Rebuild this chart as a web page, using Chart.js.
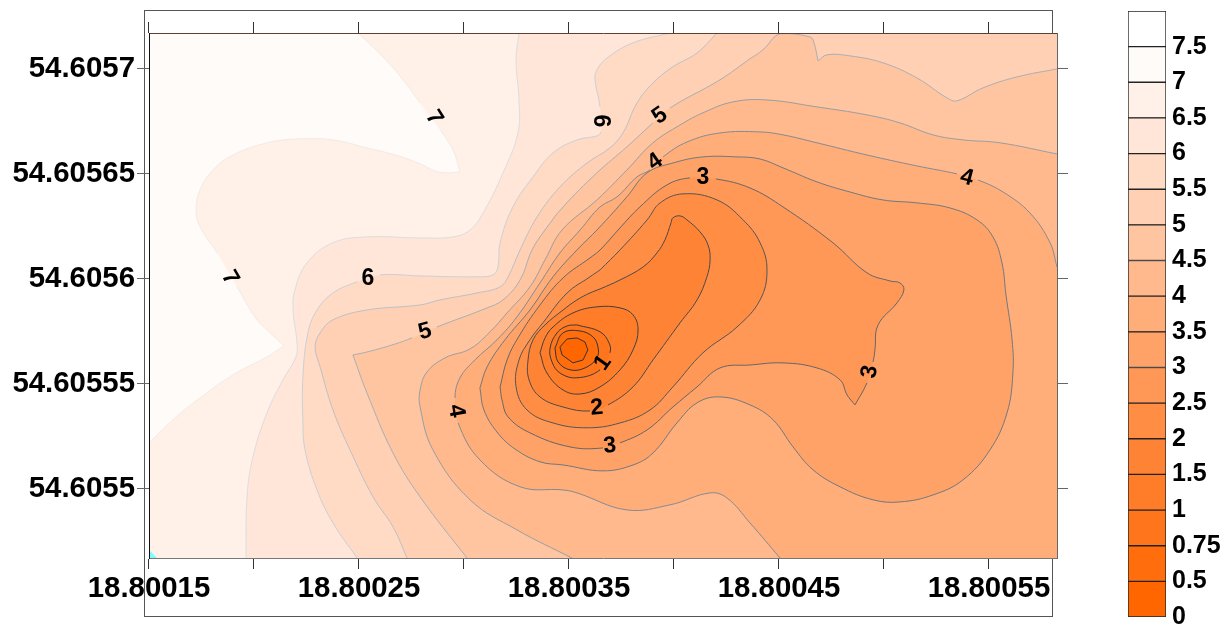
<!DOCTYPE html>
<html lang="en">
<head>
<meta charset="UTF-8">
<title>Contour map</title>
<script src="https://cdn.jsdelivr.net/npm/chart.js"></script>
<style>
  html, body { margin: 0; padding: 0; background: #fff; }
  canvas { position: absolute; top: 0; }
  #contourChart { left: 0; }
  #scaleChart { left: 1100px; }
</style>
</head>
<body>
<canvas id="contourChart" width="1100" height="626"></canvas>
<canvas id="scaleChart" width="131" height="626"></canvas>
<script>
// positions are 1e-7 degree offsets from 18.8 E / 54.6 N
const lonMin = 1500, lonMax = 5824, latMin = 54671, latMax = 57171;

const xTickValues = [18.80015, 18.8002, 18.80025, 18.8003, 18.80035, 18.8004, 18.80045, 18.8005, 18.80055];
const xTickLabels = ["18.80015", "", "18.80025", "", "18.80035", "", "18.80045", "", "18.80055"];
const yTickValues = [54.6055, 54.60555, 54.6056, 54.60565, 54.6057];
const yTickLabels = ["54.6055", "54.60555", "54.6056", "54.60565", "54.6057"];
const scaleLabels = ["0", "0.5", "0.75", "1", "1.5", "2", "2.5", "3", "3.5", "4", "4.5", "5", "5.5", "6", "6.5", "7", "7.5"];

const lon7 = [2495, 2614, 2710, 2791, 2886, 2948, 2981, 2981, 2919, 2862, 2791, 2672, 2538, 2376, 2219, 2062, 1900, 1805, 1743, 1724, 1743, 1824, 1919, 2014, 2062, 2143, 2143, 2062, 1900, 1743, 1614, 1500, 1500, 5824, 5824, 2495];
const lat7 = [57171, 57057, 56948, 56838, 56710, 56614, 56510, 56510, 56505, 56514, 56548, 56590, 56624, 56662, 56667, 56648, 56590, 56519, 56424, 56329, 56248, 56124, 55962, 55805, 55757, 55681, 55681, 55629, 55543, 55433, 55329, 55219, 54671, 54671, 57171, 57171];

const lon65 = [3262, 3248, 3262, 3257, 3186, 3091, 3029, 2948, 2791, 2538, 2376, 2252, 2195, 2186, 2205, 2200, 2138, 2062, 1995, 1967, 1962, 5824, 5824, 3262];
const lat65 = [57171, 57043, 56852, 56695, 56505, 56314, 56233, 56200, 56195, 56200, 56172, 56076, 55948, 55852, 55695, 55629, 55519, 55362, 55152, 54962, 54671, 54671, 57171, 57171];

const lon6 = [3981, 3805, 3681, 3633, 3624, 3648, 3652, 3633, 3538, 3424, 3329, 3233, 3172, 3162, 3138, 3062, 2791, 2600, 2491, 2376, 2300, 2257, 2233, 2233, 2243, 2300, 2376, 2491, 5824, 5824, 3981];
const lat6 = [57171, 57124, 57052, 56995, 56948, 56819, 56700, 56681, 56662, 56600, 56486, 56343, 56172, 56057, 56019, 56010, 56014, 56019, 55986, 55933, 55852, 55743, 55533, 55314, 55186, 54995, 54838, 54671, 54671, 57171, 57171];

const lon55 = [4205, 4110, 3995, 3900, 3824, 3757, 3695, 3586, 3457, 3348, 3267, 3210, 3172, 3062, 2886, 2791, 2538, 2376, 2315, 2291, 2315, 2376, 2457, 2567, 2662, 2729, 5824, 5824, 4205];
const lat55 = [57171, 57076, 57010, 56933, 56838, 56695, 56624, 56552, 56438, 56295, 56138, 56010, 55962, 55933, 55900, 55876, 55852, 55805, 55743, 55676, 55581, 55376, 55186, 54962, 54819, 54671, 54671, 57171, 57171];

const lon5 = [3014, 2791, 2662, 2538, 2471, 2471, 2538, 2672, 2752, 2871, 3110, 3186, 3267, 3324, 3386, 3472, 3633, 3776, 3900, 3981, 4219, 4362, 4424, 4505, 4648, 4667, 4686, 4686, 4729, 4838, 4995, 5157, 5300, 5348, 5472, 5634, 5824, 5824, 3014];
const lat5 = [54671, 54962, 55171, 55457, 55638, 55638, 55652, 55690, 55719, 55771, 55862, 55900, 55995, 56138, 56233, 56343, 56505, 56629, 56743, 56814, 56948, 57048, 57091, 57167, 57152, 57124, 57038, 57038, 57067, 57062, 57029, 56957, 56862, 56848, 56910, 56962, 57000, 54671, 54671];

const lon45 = [3514, 3252, 3029, 2852, 2791, 2791, 2824, 2910, 3029, 3124, 3205, 3314, 3386, 3467, 3633, 3776, 3900, 4029, 4138, 4281, 4443, 4681, 4919, 5076, 5233, 5376, 5553, 5824, 5824, 3514];
const lat45 = [54671, 54805, 54948, 55186, 55390, 55471, 55557, 55624, 55667, 55748, 55838, 55962, 56091, 56233, 56376, 56519, 56648, 56733, 56791, 56843, 56852, 56819, 56781, 56743, 56686, 56662, 56648, 56595, 54671, 54671];

const lon4 = [4505, 4362, 4252, 4172, 3981, 3776, 3538, 3472, 3267, 3076, 2972, 2957, 2981, 3052, 3157, 3252, 3362, 3457, 3553, 3648, 3729, 3824, 3886, 3948, 4062, 4219, 4410, 4519, 4681, 4919, 5157, 5348, 5448, 5567, 5695, 5791, 5824, 5824, 4505];
const lat4 = [54671, 54838, 54957, 54981, 54924, 54900, 54981, 54995, 55010, 55138, 55314, 55433, 55529, 55614, 55710, 55819, 55981, 56124, 56233, 56343, 56391, 56486, 56519, 56581, 56652, 56695, 56700, 56686, 56648, 56590, 56538, 56500, 56471, 56414, 56314, 56172, 56057, 54671, 54671];

const lon35 = [3076, 3110, 3195, 3314, 3424, 3538, 3638, 3776, 3872, 3995, 4138, 4300, 4410, 4519, 4681, 4838, 4995, 5157, 5314, 5443, 5519, 5562, 5581, 5610, 5614, 5586, 5505, 5376, 5233, 5076, 4948, 4791, 4662, 4567, 4472, 4362, 4219, 4110, 4014, 3900, 3805, 3662, 3472, 3362, 3243, 3157, 3095, 3076];
const lat35 = [55481, 55581, 55710, 55852, 56010, 56138, 56238, 56391, 56505, 56552, 56581, 56581, 56571, 56529, 56462, 56414, 56376, 56362, 56338, 56281, 56200, 56076, 55924, 55710, 55552, 55362, 55186, 55043, 54971, 54938, 54948, 55010, 55091, 55200, 55329, 55400, 55438, 55410, 55314, 55171, 55114, 55086, 55114, 55129, 55190, 55271, 55376, 55481];

const lon3 = [3172, 3205, 3257, 3362, 3472, 3600, 3648, 3743, 3838, 3967, 4076, 4200, 4362, 4519, 4757, 4919, 5029, 5076, 5095, 5062, 4972, 4957, 4948, 4919, 4862, 4862, 4824, 4791, 4681, 4519, 4362, 4219, 4110, 3995, 3872, 3743, 3662, 3505, 3314, 3210, 3181, 3172];
const lat3 = [55486, 55614, 55719, 55876, 56005, 56100, 56138, 56243, 56343, 56448, 56481, 56476, 56433, 56343, 56172, 56029, 55990, 55981, 55948, 55886, 55781, 55662, 55605, 55505, 55400, 55400, 55448, 55519, 55576, 55600, 55590, 55576, 55486, 55390, 55281, 55219, 55195, 55200, 55267, 55343, 55424, 55486];

const lon25 = [3648, 3743, 3872, 3934, 4043, 4205, 4329, 4410, 4443, 4410, 4300, 4138, 3995, 3886, 3743, 3586, 3424, 3300, 3248, 3262, 3314, 3376, 3491, 3600, 3648];
const lat25 = [56043, 56138, 56281, 56362, 56405, 56376, 56281, 56172, 56043, 55900, 55771, 55648, 55486, 55376, 55314, 55291, 55314, 55376, 55486, 55614, 55710, 55791, 55933, 56010, 56043];

const lon2 = [3648, 3743, 3853, 3919, 3957, 3986, 3995, 4029, 4062, 4124, 4162, 4172, 4157, 4110, 4029, 3900, 3805, 3686, 3600, 3472, 3362, 3310, 3305, 3329, 3386, 3472, 3538, 3600, 3648];
const lat2 = [55952, 55995, 56057, 56124, 56186, 56267, 56291, 56300, 56281, 56224, 56162, 56091, 56010, 55900, 55791, 55614, 55486, 55400, 55371, 55390, 55438, 55519, 55614, 55710, 55781, 55852, 55900, 55933, 55952];

const lon15 = [3362, 3386, 3424, 3519, 3633, 3743, 3805, 3829, 3805, 3743, 3648, 3553, 3472, 3395, 3362];
const lat15 = [55648, 55719, 55771, 55838, 55867, 55862, 55829, 55757, 55662, 55567, 55486, 55452, 55471, 55552, 55648];

const lon1 = [3538, 3648, 3691, 3695, 3648, 3538, 3457, 3419, 3410, 3443, 3491, 3538];
const lat1 = [55781, 55748, 55695, 55648, 55567, 55529, 55552, 55605, 55671, 55743, 55776, 55781];

const lon075 = [3433, 3448, 3505, 3576, 3633, 3638, 3614, 3553, 3472, 3433];
const lat075 = [55671, 55605, 55567, 55576, 55624, 55676, 55724, 55752, 55743, 55671];

const lon05 = [3457, 3467, 3519, 3567, 3590, 3576, 3538, 3491, 3457];
const lat05 = [55676, 55638, 55600, 55614, 55662, 55700, 55719, 55714, 55676];

// small off-scale patch in the south west corner
const cornerLon = [1500, 1538, 1500, 1500];
const cornerLat = [54710, 54671, 54671, 54710];

// contour labels
const labelLevels = [7, 7, 6, 5, 4, 3, 4, 6, 5, 4, 1, 2, 3, 3];
const labelLon = [2857, 1886, 3648, 3933, 3910, 4138, 5395, 2543, 2814, 2962, 3662, 3633, 3695, 4933];
const labelLat = [56767, 56005, 56752, 56776, 56557, 56481, 56481, 56000, 55748, 55371, 55600, 55386, 55205, 55557];
const labelAngle = [58, 60, 90, -35, -35, 0, 15, 0, -15, 80, -55, -5, -5, -80];

const contourLevels = [0.5, 0.75, 1, 1.5, 2, 2.5, 3, 3.5, 4, 4.5, 5, 5.5, 6, 6.5, 7];
const contourLons = [lon05, lon075, lon1, lon15, lon2, lon25, lon3, lon35, lon4, lon45, lon5, lon55, lon6, lon65, lon7];
const contourLats = [lat05, lat075, lat1, lat15, lat2, lat25, lat3, lat35, lat4, lat45, lat5, lat55, lat6, lat65, lat7];

// band just below each contour level
const bandColors = ["#ff6600", "#ff6d0d", "#ff751b", "#ff7c28", "#ff8334", "#ff8d44", "#ff9856", "#ffa268", "#ffad79", "#ffb98c", "#ffc5a0", "#ffd0b3", "#ffdbc6", "#ffe6d8", "#fff0e8"];
const lineColors = ["#333", "#333", "#3a3a3a", "#404040", "#4a4a4a", "#555", "#666", "#72787e", "#858b92", "#989ea4", "#a9afb5", "#bcc1c6", "#cbd0d4", "#dcdde0", "#f2ebe6"];
const topBandColor = "#fffbf8";
const scaleColors = bandColors.concat([topBandColor, "#ffffff"]);

const toLon = v => 18.8 + v * 1e-7;
const toLat = v => 54.6 + v * 1e-7;
const onEdge = (x, y) => x <= lonMin || x >= lonMax || y <= latMin || y >= latMax;

// doubling a point keeps the spline from rounding the corners on the map edge
function buildPoints(lons, lats) {
    const pts = [];
    lons.forEach((x, i) => {
        const p = { x: toLon(x), y: toLat(lats[i]), rawX: x, rawY: lats[i] };
        pts.push(p);
        if (onEdge(x, lats[i])) pts.push(p);
    });
    return pts;
}

// no line along the map edge, and a gap where a label sits on its contour
function hideSegment(pts, level, a, b) {
    const p = pts[a], q = pts[b];
    if (onEdge(p.rawX, p.rawY) && onEdge(q.rawX, q.rawY)) return true;
    const mx = (p.rawX + q.rawX) / 2, my = (p.rawY + q.rawY) / 2;
    return labelLevels.some((l, i) => l === level && Math.hypot(mx - labelLon[i], my - labelLat[i]) < 60);
}

const lineSets = contourLevels.map((level, i) => {
    const pts = buildPoints(contourLons[i], contourLats[i]);
    return {
        data: pts, showLine: true, pointRadius: 0, fill: false, tension: i === 0 ? 0 : 0.4,
        borderWidth: 1, borderColor: lineColors[i],
        segment: { borderColor: ctx => hideSegment(pts, level, ctx.p0DataIndex, ctx.p1DataIndex) ? "transparent" : undefined }
    };
});

const fillSets = contourLevels.map((level, i) => ({
    data: buildPoints(contourLons[i], contourLats[i]), showLine: true, pointRadius: 0,
    fill: "shape", tension: i === 0 ? 0 : 0.4, borderWidth: 0, borderColor: "transparent",
    backgroundColor: bandColors[i]
}));

const cornerSet = {
    data: buildPoints(cornerLon, cornerLat), showLine: true, pointRadius: 0, fill: "shape",
    tension: 0, borderWidth: 0, borderColor: "transparent", backgroundColor: "#7ffbff"
};

const mapDecor = {
    id: "mapDecor",
    beforeDraw(chart) {
        const c = chart.ctx;
        c.save();
        c.strokeStyle = "#555";
        c.lineWidth = 1;
        c.strokeRect(144.5, 10.5, 908, 606);
        c.restore();
    },
    beforeDatasetsDraw(chart) {
        const a = chart.chartArea;
        chart.ctx.fillStyle = topBandColor;
        chart.ctx.fillRect(a.left, a.top, a.right - a.left, a.bottom - a.top);
    },
    afterDatasetsDraw(chart) {
        const c = chart.ctx;
        c.save();
        c.fillStyle = "#000";
        c.font = "bold 23px 'Liberation Sans', Arial, sans-serif";
        c.textAlign = "center";
        c.textBaseline = "middle";
        labelLevels.forEach((level, i) => {
            c.save();
            c.translate(chart.scales.x.getPixelForValue(toLon(labelLon[i])), chart.scales.y.getPixelForValue(toLat(labelLat[i])));
            c.rotate(labelAngle[i] * Math.PI / 180);
            c.fillText(String(level), 0, 0);
            c.restore();
        });
        c.restore();
    }
};

const tickFont = { family: "'Liberation Sans', Arial, sans-serif", weight: "bold", size: 29.4 };

new Chart(document.getElementById("contourChart"), {
    type: "scatter",
    data: { datasets: [cornerSet, ...lineSets, ...fillSets] },
    plugins: [mapDecor],
    options: {
        responsive: false,
        animation: false,
        events: [],
        layout: { padding: 0, autoPadding: false },
        plugins: { legend: { display: false }, tooltip: { enabled: false } },
        scales: {
            x: {
                type: "linear", position: "bottom", min: toLon(lonMin), max: toLon(lonMax),
                afterBuildTicks: s => { s.ticks = xTickValues.map(v => ({ value: v })); },
                afterFit: s => { s.height = 68; },
                grid: { drawOnChartArea: false, tickLength: 11, color: "#333" },
                border: { color: "#777", z: 1 },
                ticks: { autoSkip: false, maxRotation: 0, padding: 2, color: "#000", font: tickFont,
                    callback: (v, i) => xTickLabels[i] }
            },
            x2: {
                type: "linear", position: "top", min: toLon(lonMin), max: toLon(lonMax),
                afterBuildTicks: s => { s.ticks = xTickValues.map(v => ({ value: v })); },
                afterFit: s => { s.height = 33; },
                grid: { drawOnChartArea: false, tickLength: 11, color: "#333" },
                border: { color: "#5a4035", z: 1 },
                ticks: { display: false }
            },
            y: {
                type: "linear", position: "left", min: toLat(latMin), max: toLat(latMax),
                afterBuildTicks: s => { s.ticks = yTickValues.map(v => ({ value: v })); },
                afterFit: s => { s.width = 149; },
                grid: { drawOnChartArea: false, tickLength: 12, color: "#666" },
                border: { color: "#111", z: 1 },
                ticks: { autoSkip: false, padding: 2, color: "#000", font: tickFont,
                    callback: (v, i) => yTickLabels[i] }
            },
            y2: {
                type: "linear", position: "right", min: toLat(latMin), max: toLat(latMax),
                afterBuildTicks: s => { s.ticks = yTickValues.map(v => ({ value: v })); },
                afterFit: s => { s.width = 43; },
                grid: { drawOnChartArea: false, tickLength: 11, color: "#666" },
                border: { color: "#666", z: 1 },
                ticks: { display: false }
            }
        }
    }
});

// colour scale, one floating bar per band
new Chart(document.getElementById("scaleChart"), {
    type: "bar",
    data: {
        labels: ["scale"],
        datasets: scaleColors.map((color, i) => ({
            data: [[i, i + 1]], backgroundColor: color, borderColor: "#222", borderWidth: 1,
            borderSkipped: false, barPercentage: 1, categoryPercentage: 1, grouped: false
        }))
    },
    options: {
        responsive: false,
        animation: false,
        events: [],
        layout: { padding: { left: 28, top: 11, bottom: 9, right: 0 }, autoPadding: false },
        plugins: { legend: { display: false }, tooltip: { enabled: false } },
        scales: {
            x: { display: false },
            y: {
                position: "right", min: 0, max: scaleLabels.length,
                afterBuildTicks: s => { s.ticks = scaleLabels.map((l, i) => ({ value: i })); },
                afterFit: s => { s.width = 65; s.paddingBottom = 0; s.paddingTop = 0; },
                grid: { display: false, drawTicks: false },
                border: { display: false },
                ticks: { autoSkip: false, padding: 6, crossAlign: "near", color: "#000",
                    font: { family: "'Liberation Sans', Arial, sans-serif", weight: "bold", size: 25 },
                    callback: (v, i) => scaleLabels[i] }
            }
        }
    }
});
</script>
</body>
</html>
